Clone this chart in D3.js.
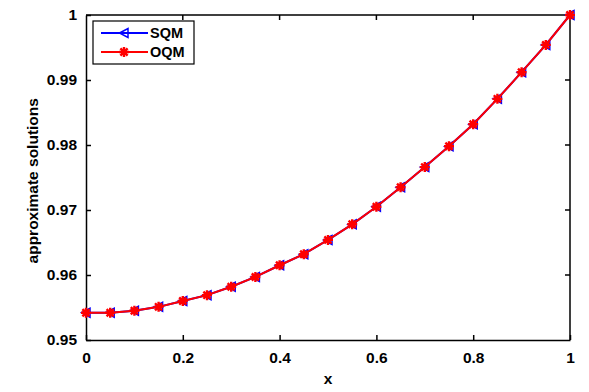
<!DOCTYPE html>
<html>
<head>
<meta charset="utf-8">
<script src="https://cdn.jsdelivr.net/npm/d3@7"></script>
<style>
  body { margin: 0; background: #fff; }
  text { font-family: "Liberation Sans", Arial, sans-serif; font-weight: bold; }
</style>
</head>
<body>
<div id="chart"></div>
<script>
// data
const xs = [0, 0.05, 0.1, 0.15, 0.2, 0.25, 0.3, 0.35, 0.4, 0.45, 0.5,
  0.55, 0.6, 0.65, 0.7, 0.75, 0.8, 0.85, 0.9, 0.95, 1];
const sqm = [0.9542, 0.9542, 0.9545, 0.9551, 0.9560, 0.9569, 0.9582, 0.9597, 0.9615, 0.9632, 0.9654,
  0.9678, 0.9705, 0.9735, 0.9766, 0.9798, 0.9832, 0.9871, 0.9912, 0.9954, 1.0];
const oqm = [0.9542, 0.9542, 0.9545, 0.9551, 0.9560, 0.9569, 0.9582, 0.9597, 0.9615, 0.9632, 0.9654,
  0.9678, 0.9705, 0.9735, 0.9766, 0.9798, 0.9832, 0.9871, 0.9912, 0.9954, 1.0];
const xTicks = [0, 0.2, 0.4, 0.6, 0.8, 1];
const yTicks = [0.95, 0.96, 0.97, 0.98, 0.99, 1];
const seriesNames = ['SQM', 'OQM'];

const width = 589, height = 392;
const margin = {left: 86, right: 19, top: 15, bottom: 52};

const svg = d3.select('#chart').append('svg')
  .attr('width', width)
  .attr('height', height);

const x = d3.scaleLinear().domain([0, 1]).range([margin.left, width - margin.right]);
const y = d3.scaleLinear().domain([0.95, 1]).range([height - margin.bottom, margin.top]);

// axes, ticks inward like matlab
const xAxis = d3.axisBottom(x).tickValues(xTicks).tickSizeInner(-5).tickSizeOuter(0)
  .tickPadding(12).tickFormat(d3.format('~g'));
const yAxis = d3.axisLeft(y).tickValues(yTicks).tickSizeInner(-5).tickSizeOuter(0)
  .tickPadding(9).tickFormat(d3.format('~g'));

const gx = svg.append('g').attr('transform', `translate(0,${height - margin.bottom})`).call(xAxis);
const gy = svg.append('g').attr('transform', `translate(${margin.left},0)`).call(yAxis);
[gx, gy].forEach(g => {
  g.selectAll('text').style('font-size', '15.5px').attr('fill', '#000');
  g.selectAll('line, path').attr('stroke', '#000').attr('stroke-width', 1.5);
});

// top/right box with mirrored ticks
svg.append('path')
  .attr('d', `M${x(0)},${y(1)}H${x(1)}V${y(0.95)}`)
  .attr('fill', 'none').attr('stroke', '#000').attr('stroke-width', 1.5);
svg.selectAll('.tt').data(xTicks.slice(1, -1)).join('line')
  .attr('x1', d => x(d)).attr('x2', d => x(d))
  .attr('y1', y(1)).attr('y2', y(1) + 5)
  .attr('stroke', '#000').attr('stroke-width', 1.5);
svg.selectAll('.rt').data(yTicks.slice(1, -1)).join('line')
  .attr('x1', x(1)).attr('x2', x(1) - 5)
  .attr('y1', d => y(d)).attr('y2', d => y(d))
  .attr('stroke', '#000').attr('stroke-width', 1.5);

// axis titles
svg.append('text').attr('x', x(0.5)).attr('y', 384)
  .attr('text-anchor', 'middle').style('font-size', '15.5px').text('x');
svg.append('text')
  .attr('transform', `translate(38,${y(0.9745)}) rotate(-90)`)
  .attr('text-anchor', 'middle').style('font-size', '15.5px').text('approximate solutions');

const line = d3.line().x(d => x(d[0])).y(d => y(d[1]));
const triangle = 'M-4.5,0L4,-4.5L4,4.5Z';
const star = 'M-5,0H5M0,-5V5M-3.6,-3.6L3.6,3.6M-3.6,3.6L3.6,-3.6';

function drawSeries(vals, color, kind) {
  const pts = xs.map((v, i) => [v, vals[i]]);
  svg.append('path').datum(pts).attr('d', line)
    .attr('fill', 'none').attr('stroke', color).attr('stroke-width', 2);
  svg.append('g').selectAll('path').data(pts).join('path')
    .attr('transform', d => `translate(${x(d[0])},${y(d[1])})`)
    .attr('d', kind === 'tri' ? triangle : star)
    .attr('fill', 'none').attr('stroke', color).attr('stroke-width', kind === 'tri' ? 1.5 : 2.4);
}
drawSeries(sqm, '#0000ff', 'tri');
drawSeries(oqm, '#ff0000', 'star');

// legend
const lg = svg.append('g');
lg.append('rect').attr('x', 93).attr('y', 21).attr('width', 101).attr('height', 43)
  .attr('fill', '#fff').attr('stroke', '#000').attr('stroke-width', 1.2);
const legendRows = [
  {name: seriesNames[0], color: '#0000ff', d: triangle, w: 1.5, yy: 33},
  {name: seriesNames[1], color: '#ff0000', d: star, w: 2.4, yy: 52}
];
legendRows.forEach(r => {
  lg.append('line').attr('x1', 101).attr('x2', 148).attr('y1', r.yy).attr('y2', r.yy)
    .attr('stroke', r.color).attr('stroke-width', 2);
  lg.append('path').attr('d', r.d).attr('transform', `translate(124,${r.yy})`)
    .attr('fill', 'none').attr('stroke', r.color).attr('stroke-width', r.w);
  lg.append('text').attr('x', 150).attr('y', r.yy + 5).style('font-size', '14.5px').text(r.name);
});
</script>
</body>
</html>
